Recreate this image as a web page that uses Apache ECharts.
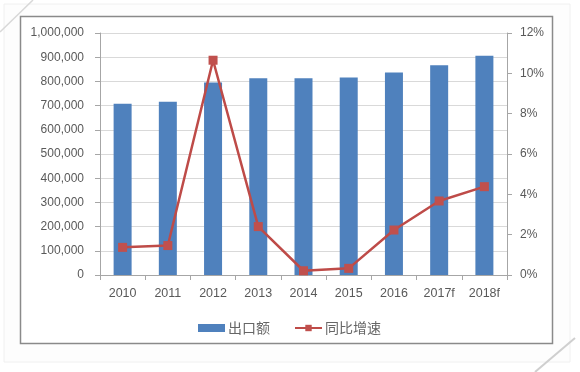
<!DOCTYPE html>
<html><head><meta charset="utf-8">
<script src="https://cdn.jsdelivr.net/npm/echarts@6/dist/echarts.min.js"></script>
<style>html,body{margin:0;padding:0;background:#fff}#c{width:580px;height:372px}</style>
</head><body><div id="c"></div>
<script>
var categories = ['2010','2011','2012','2013','2014','2015','2016','2017f','2018f'];
var exportValues = [708000, 716000, 795000, 813000, 813000, 816000, 837000, 867000, 906000];
var growthRates = [1.37, 1.46, 10.65, 2.4, 0.21, 0.33, 2.23, 3.67, 4.38];
var seriesNames = ['出口额', '同比增速'];

var txt = '#595959';
var font = '"Liberation Sans", Arial, sans-serif';
var chart = echarts.init(document.getElementById('c'), null, {renderer:'canvas'});
chart.setOption({
  animation:false,
  backgroundColor:'#ffffff',
  graphic:[
    {type:'rect', shape:{x:4,y:4,width:566,height:358}, style:{fill:'#fdfdfd', stroke:'#f0f0f0', lineWidth:1}, z:-10},
    {type:'rect', shape:{x:20.5,y:16.5,width:532,height:327}, style:{fill:'#ffffff', stroke:'#8a8a8a', lineWidth:1.5}, z:-5},
    {type:'line', shape:{x1:0,y1:32,x2:33,y2:0}, style:{stroke:'#d8d8d8', lineWidth:1.5}},
    {type:'line', shape:{x1:535,y1:372,x2:575,y2:338}, style:{stroke:'#cfcfcf', lineWidth:2}}
  ],
  grid:{left:100, right:73, top:33, bottom:97},
  legend:{
    left:193, top:316, itemWidth:27, itemHeight:8, itemGap:24,
    textStyle:{color:'#666666', fontSize:14, fontFamily:'"Noto Sans CJK SC", sans-serif', padding:[0,0,0,-2]},
    data:[{name:seriesNames[0], icon:'rect'}, {name:seriesNames[1]}]
  },
  xAxis:{
    type:'category', data:categories,
    axisLine:{lineStyle:{color:'#a6a6a6'}},
    axisTick:{show:true, length:5, lineStyle:{color:'#a6a6a6'}},
    axisLabel:{color:txt, fontSize:12.5, fontFamily:font, margin:12}
  },
  yAxis:[{
    type:'value', min:0, max:1000000, interval:100000,
    axisLine:{show:true, lineStyle:{color:'#a6a6a6'}},
    axisTick:{show:true, length:5, lineStyle:{color:'#a6a6a6'}},
    splitLine:{lineStyle:{color:'#d9d9d9'}},
    axisLabel:{color:txt, fontSize:12, fontFamily:font, margin:16,
      formatter:function(v){return v.toLocaleString('en-US');}}
  },{
    type:'value', min:0, max:12, interval:2, position:'right',
    axisLine:{show:true, lineStyle:{color:'#a6a6a6'}},
    axisTick:{show:true, length:5, lineStyle:{color:'#a6a6a6'}},
    splitLine:{show:false},
    axisLabel:{color:txt, fontSize:12, fontFamily:font, margin:13, formatter:'{value}%'}
  }],
  series:[{
    name:seriesNames[0], type:'bar', data:exportValues, barWidth:18,
    itemStyle:{color:'#4f81bd'}
  },{
    name:seriesNames[1], type:'line', yAxisIndex:1, data:growthRates,
    symbol:'rect', symbolSize:9,
    lineStyle:{color:'#be4b48', width:2.5},
    itemStyle:{color:'#c0504d'}
  }]
});
</script></body></html>
